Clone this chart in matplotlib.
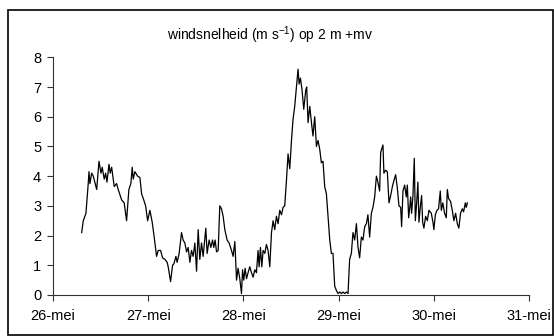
import matplotlib.pyplot as plt
from matplotlib.patches import Rectangle

plt.rc('font', family=['Liberation Sans', 'DejaVu Sans'])
plt.rc('mathtext', default='regular')

# tijd in dagen vanaf 26-mei 00:00
days = [
    0.301, 0.318, 0.346, 0.370, 0.378, 0.388, 0.406, 0.423, 0.459, 0.483,
    0.504, 0.517, 0.538, 0.553, 0.567, 0.588, 0.601, 0.616, 0.643, 0.668,
    0.685, 0.721, 0.748, 0.773, 0.797, 0.818, 0.832, 0.843, 0.860, 0.889,
    0.913, 0.931, 0.948, 0.973, 0.994, 1.018, 1.042, 1.063, 1.088, 1.105,
    1.130, 1.151, 1.175, 1.199, 1.210, 1.235, 1.256, 1.270, 1.291, 1.304,
    1.325, 1.350, 1.367, 1.385, 1.403, 1.420, 1.438, 1.455, 1.472, 1.490,
    1.508, 1.525, 1.542, 1.560, 1.577, 1.605, 1.619, 1.640, 1.658, 1.676,
    1.689, 1.703, 1.718, 1.735, 1.752, 1.770, 1.787, 1.805, 1.829, 1.850,
    1.875, 1.892, 1.910, 1.928, 1.944, 1.962, 1.980, 1.991, 2.004, 2.018,
    2.033, 2.049, 2.067, 2.085, 2.102, 2.120, 2.137, 2.154, 2.165, 2.179,
    2.193, 2.207, 2.225, 2.242, 2.259, 2.277, 2.295, 2.312, 2.329, 2.347,
    2.364, 2.382, 2.400, 2.417, 2.434, 2.452, 2.469, 2.487, 2.505, 2.521,
    2.539, 2.557, 2.574, 2.585, 2.599, 2.616, 2.634, 2.655, 2.665, 2.679,
    2.697, 2.715, 2.731, 2.749, 2.767, 2.784, 2.802, 2.819, 2.836, 2.854,
    2.872, 2.889, 2.907, 2.924, 2.941, 2.959, 2.977, 2.994, 3.012, 3.029,
    3.046, 3.064, 3.082, 3.099, 3.116, 3.134, 3.151, 3.169, 3.187, 3.204,
    3.221, 3.239, 3.256, 3.274, 3.292, 3.308, 3.326, 3.344, 3.361, 3.379,
    3.397, 3.413, 3.431, 3.442, 3.452, 3.466, 3.476, 3.494, 3.512, 3.529,
    3.547, 3.565, 3.581, 3.599, 3.617, 3.634, 3.652, 3.662, 3.676, 3.694,
    3.711, 3.722, 3.736, 3.746, 3.757, 3.767, 3.781, 3.795, 3.806, 3.820,
    3.833, 3.844, 3.858, 3.872, 3.883, 3.896, 3.914, 3.932, 3.949, 3.974,
    3.991, 4.001, 4.016, 4.033, 4.050, 4.068, 4.079, 4.095, 4.113, 4.131,
    4.142, 4.155, 4.176, 4.194, 4.211, 4.229, 4.247, 4.263, 4.281, 4.299,
    4.313, 4.331, 4.341, 4.352,
]

# windsnelheid (m/s)
wind = [
    2.10, 2.50, 2.75, 3.75, 4.15, 3.75, 4.10, 4.00, 3.55, 4.50,
    4.10, 4.30, 3.90, 4.10, 3.80, 4.40, 4.10, 4.30, 3.65, 3.75,
    3.55, 3.20, 3.10, 2.50, 3.55, 3.75, 4.30, 3.90, 4.15, 4.00,
    3.95, 3.40, 3.25, 3.00, 2.50, 2.85, 2.45, 1.95, 1.30, 1.50,
    1.50, 1.25, 1.20, 1.10, 0.95, 0.45, 1.00, 1.05, 1.30, 1.10,
    1.40, 2.10, 1.85, 1.75, 1.45, 1.60, 1.10, 1.50, 1.30, 1.75,
    0.80, 2.20, 1.20, 1.75, 1.30, 2.25, 1.40, 1.85, 1.60, 1.85,
    1.60, 1.85, 1.45, 1.50, 3.00, 2.90, 2.65, 2.20, 1.85, 1.75,
    1.50, 1.30, 1.80, 0.50, 0.90, 0.55, 0.05, 0.85, 0.50, 0.90,
    0.55, 0.75, 0.95, 0.75, 0.60, 0.85, 0.75, 1.50, 0.95, 1.60,
    0.95, 1.50, 1.40, 1.70, 1.50, 0.95, 2.10, 2.50, 2.20, 2.65,
    2.40, 2.85, 2.70, 2.95, 3.00, 3.85, 4.75, 4.25, 5.20, 5.90,
    6.35, 7.00, 7.60, 7.10, 7.30, 6.90, 6.25, 6.90, 7.00, 5.80,
    6.35, 5.80, 5.35, 6.00, 5.00, 5.20, 4.90, 4.45, 4.50, 3.65,
    3.40, 2.65, 1.85, 1.40, 1.40, 0.30, 0.15, 0.05, 0.10, 0.05,
    0.10, 0.05, 0.10, 0.05, 1.20, 1.40, 2.10, 1.85, 2.40, 1.60,
    1.25, 1.95, 1.85, 2.30, 2.40, 2.70, 1.95, 2.75, 2.95, 3.30,
    4.00, 3.80, 3.50, 4.80, 4.90, 5.05, 4.10, 4.20, 4.15, 3.10,
    3.35, 3.65, 3.85, 4.05, 3.60, 3.00, 2.95, 2.30, 3.50, 3.70,
    3.30, 3.70, 2.60, 2.90, 3.30, 2.75, 3.35, 4.60, 2.50, 3.10,
    3.80, 2.45, 2.95, 3.35, 2.45, 2.25, 2.65, 2.50, 2.85, 2.75,
    2.45, 2.20, 2.70, 2.85, 2.90, 3.50, 2.85, 3.10, 2.75, 2.60,
    3.55, 3.25, 3.15, 2.85, 2.50, 2.75, 2.40, 2.25, 2.75, 2.90,
    2.80, 3.10, 2.95, 3.10,
]

tick_days = [0, 1, 2, 3, 4, 5]
tick_labels = ['26-mei', '27-mei', '28-mei', '29-mei', '30-mei', '31-mei']

fig = plt.figure(figsize=(5.54, 3.36), dpi=100)
ax = fig.add_axes([53 / 554, 41 / 336, 476 / 554, 237.7 / 336])

ax.plot(days, wind, color='black', lw=0.9)

ax.set_xlim(0, 5)
ax.set_ylim(0, 8)
ax.set_xticks(tick_days)
ax.set_xticklabels(tick_labels)
ax.set_yticks(range(0, 9))
for side in ('top', 'right'):
    ax.spines[side].set_visible(False)
for side in ('left', 'bottom'):
    ax.spines[side].set_linewidth(0.8)
    ax.spines[side].set_color('#333333')
ax.tick_params(axis='both', direction='out', length=4, width=0.8,
               colors='#333333', labelcolor='black', labelsize=10.5)
ax.tick_params(axis='y', pad=4.5)
ax.tick_params(axis='x', pad=6)

fig.text(270 / 554, 1 - 35 / 336, 'windsnelheid (m s$^{-1}$) op 2 m +mv',
         ha='center', va='center', fontsize=10)

# kader om de hele grafiek
fig.patches.append(Rectangle((8 / 554, 1 / 336), 545 / 554, 325 / 336,
                             transform=fig.transFigure, fill=False,
                             edgecolor='black', lw=1.2))

fig.savefig('out.png', dpi=100)
